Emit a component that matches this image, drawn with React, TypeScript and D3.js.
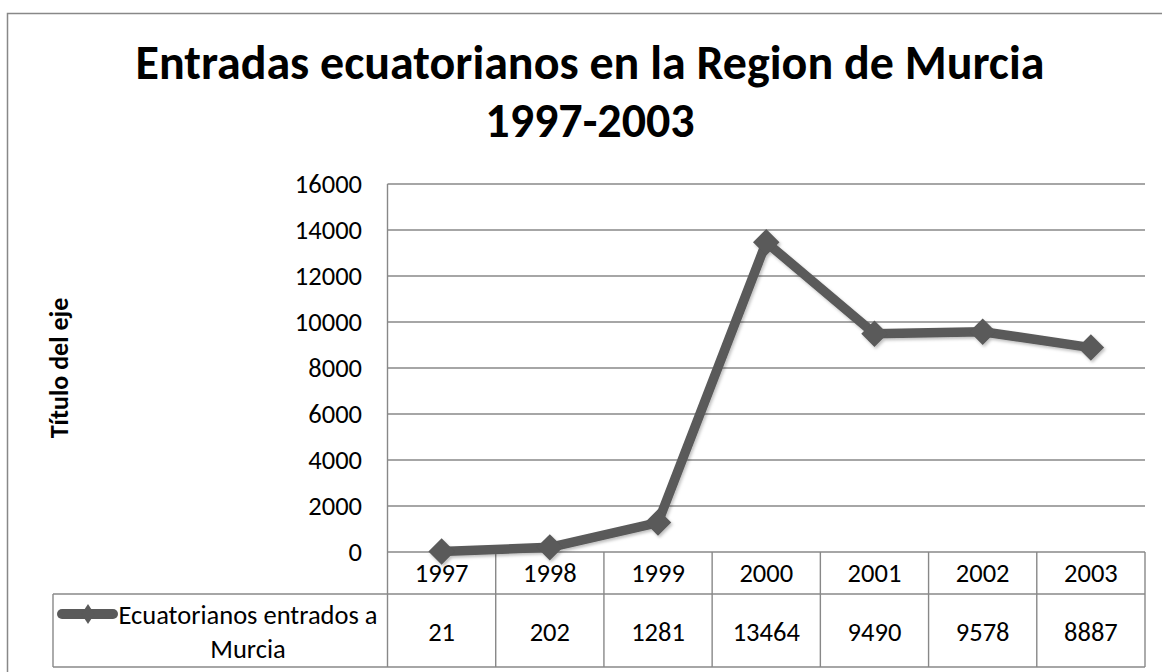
import React, { useEffect, useRef } from "react";
import * as d3 from "d3";

const years = ["1997", "1998", "1999", "2000", "2001", "2002", "2003"];
const values = [21, 202, 1281, 13464, 9490, 9578, 8887];
const yTicks = [0, 2000, 4000, 6000, 8000, 10000, 12000, 14000, 16000];
const seriesName = ["Ecuatorianos entrados a", "Murcia"];
const titleLines = ["Entradas ecuatorianos en la Region de Murcia", "1997-2003"];
const yAxisTitle = "Título del eje";

const W = 1162;
const H = 672;
const FONT = "Carlito, Calibri, Lato, sans-serif";
const GRID = "#888888";
const LINE = "#5a5a5a";
const FS = 26.5;

export default function App() {
  const ref = useRef<SVGSVGElement | null>(null);

  useEffect(() => {
    const svg = d3.select(ref.current);
    svg.selectAll("*").remove();

    const left = 387.5, right = 1145, top = 184, bottom = 552;
    const rowMid = 594, tableBottom = 667, legendLeft = 53;

    const x = d3.scaleBand<string>().domain(years).range([left, right]);
    const y = d3.scaleLinear().domain([0, 16000]).range([bottom, top]);

    const defs = svg.append("defs");
    const f = defs.append("filter").attr("id", "sh").attr("x", "-50%").attr("y", "-50%").attr("width", "200%").attr("height", "200%");
    f.append("feDropShadow").attr("dx", 1.5).attr("dy", 2).attr("stdDeviation", 1.5).attr("flood-color", "#000").attr("flood-opacity", 0.25);

    // outer frame
    svg.append("rect").attr("x", 7.5).attr("y", 13.5).attr("width", 1200).attr("height", 700)
      .attr("fill", "#fff").attr("stroke", GRID).attr("stroke-width", 1.5);

    // title
    titleLines.forEach((t, i) => {
      svg.append("text").attr("x", 590).attr("y", 79 + i * 58)
        .attr("text-anchor", "middle")
        .attr("font-family", FONT).attr("font-weight", "bold").attr("font-size", 48)
        .attr("fill", "#000").text(t);
    });

    // gridlines
    svg.append("g").selectAll("line").data(yTicks).join("line")
      .attr("x1", left).attr("x2", right)
      .attr("y1", (d) => y(d)).attr("y2", (d) => y(d))
      .attr("stroke", GRID).attr("stroke-width", 1.4);

    // y-axis line
    svg.append("line").attr("x1", left).attr("x2", left).attr("y1", top).attr("y2", tableBottom)
      .attr("stroke", GRID).attr("stroke-width", 1.4);

    // y tick labels
    svg.append("g").selectAll("text").data(yTicks).join("text")
      .attr("x", 362).attr("y", (d) => y(d))
      .attr("text-anchor", "end").attr("dominant-baseline", "central")
      .attr("font-family", FONT).attr("font-size", FS).attr("fill", "#000")
      .text((d) => String(d));

    // y axis title
    svg.append("text")
      .attr("transform", `translate(59,${(top + bottom) / 2}) rotate(-90)`)
      .attr("text-anchor", "middle").attr("dominant-baseline", "central")
      .attr("font-family", FONT).attr("font-weight", "bold").attr("font-size", 26)
      .attr("fill", "#000").text(yAxisTitle);

    // data table
    const tg = svg.append("g");
    tg.append("line").attr("x1", legendLeft).attr("x2", right).attr("y1", rowMid).attr("y2", rowMid)
      .attr("stroke", GRID).attr("stroke-width", 1.4);
    tg.append("line").attr("x1", legendLeft).attr("x2", right).attr("y1", tableBottom).attr("y2", tableBottom)
      .attr("stroke", GRID).attr("stroke-width", 1.4);
    tg.append("line").attr("x1", legendLeft).attr("x2", legendLeft).attr("y1", rowMid).attr("y2", tableBottom)
      .attr("stroke", GRID).attr("stroke-width", 1.4);
    tg.selectAll("line.col").data(years).join("line").attr("class", "col")
      .attr("x1", (d) => (x(d) as number) + x.bandwidth())
      .attr("x2", (d) => (x(d) as number) + x.bandwidth())
      .attr("y1", bottom).attr("y2", tableBottom)
      .attr("stroke", GRID).attr("stroke-width", 1.4);
    tg.selectAll("text.yr").data(years).join("text").attr("class", "yr")
      .attr("x", (d) => (x(d) as number) + x.bandwidth() / 2).attr("y", (bottom + rowMid) / 2)
      .attr("text-anchor", "middle").attr("dominant-baseline", "central")
      .attr("font-family", FONT).attr("font-size", FS).attr("fill", "#000").text((d) => d);
    tg.selectAll("text.val").data(values).join("text").attr("class", "val")
      .attr("x", (_d, i) => (x(years[i]) as number) + x.bandwidth() / 2).attr("y", (rowMid + tableBottom) / 2 + 1)
      .attr("text-anchor", "middle").attr("dominant-baseline", "central")
      .attr("font-family", FONT).attr("font-size", FS).attr("fill", "#000").text((d) => String(d));

    // legend key
    tg.append("line").attr("x1", 62).attr("x2", 113).attr("y1", 614).attr("y2", 614)
      .attr("stroke", LINE).attr("stroke-width", 10).attr("stroke-linecap", "round");
    tg.append("path").attr("d", d3.symbol().type(d3.symbolSquare).size(200)())
      .attr("transform", "translate(88,614) scale(0.65,1) rotate(45)").attr("fill", LINE);
    seriesName.forEach((t, i) => {
      tg.append("text").attr("x", 248).attr("y", 615 + i * 34)
        .attr("text-anchor", "middle").attr("dominant-baseline", "central")
        .attr("font-family", FONT).attr("font-size", FS).attr("fill", "#000").text(t);
    });

    // line
    const cx = (i: number) => (x(years[i]) as number) + x.bandwidth() / 2;
    const line = d3.line<number>().x((_d, i) => cx(i)).y((d) => y(d));
    const sg = svg.append("g").attr("filter", "url(#sh)");
    sg.append("path").datum(values).attr("d", line)
      .attr("fill", "none").attr("stroke", LINE).attr("stroke-width", 9.5).attr("stroke-linejoin", "round");
    sg.selectAll("path.m").data(values).join("path").attr("class", "m")
      .attr("d", d3.symbol().type(d3.symbolSquare).size(350)())
      .attr("transform", (d, i) => `translate(${cx(i)},${y(d)}) rotate(45)`)
      .attr("fill", LINE);
  }, []);

  return (
    <svg ref={ref} width={W} height={H} style={{ position: "absolute", left: 0, top: 0, background: "#fff" }} />
  );
}
